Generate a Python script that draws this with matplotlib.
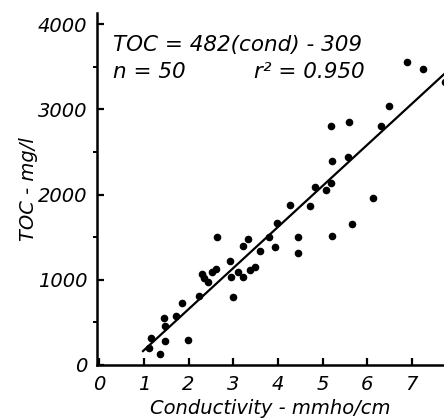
import numpy as np
from matplotlib import pyplot as plt

# conductivity (mmho/cm) and TOC (mg/l)
cond = [1.17, 1.11, 1.37, 1.46, 1.47, 1.47, 1.99, 1.72, 1.86, 2.24,
        2.64, 2.99, 2.30, 2.34, 2.52, 2.61, 2.92, 2.96, 3.10, 3.22,
        3.21, 3.32, 3.37, 3.49, 3.61, 3.81, 3.93, 3.97, 4.46, 4.46,
        5.21, 5.66, 4.27, 4.73, 4.83, 5.08, 5.19, 5.21, 5.57, 5.19,
        5.59, 6.49, 6.12, 6.89, 7.25, 7.74, 2.44, 6.32]
toc = [317, 202, 127, 551, 457, 287, 298, 572, 733, 815,
       1498, 794, 1065, 1021, 1091, 1130, 1223, 1028, 1087, 1038,
       1396, 1474, 1117, 1153, 1340, 1505, 1387, 1662, 1501, 1310,
       1517, 1652, 1878, 1862, 2088, 2055, 2131, 2395, 2445, 2804,
       2850, 3040, 1962, 3558, 3470, 3320, 970, 2804]

slope = 482
intercept = -309
fit_start = 0.98
fit_end = 7.9

x_ticks = [0, 1, 2, 3, 4, 5, 6, 7]
y_ticks = [0, 1000, 2000, 3000, 4000]
y_minor = [500, 1500, 2500, 3500]


def draw_plot():
    fig = plt.figure(figsize=(4.44, 4.18), dpi=100)
    ax = fig.add_axes([0.2185, 0.1268, 0.7815, 0.842])

    ax.scatter(cond, toc, s=20, color='black', zorder=3, clip_on=False)
    xs = np.array([fit_start, fit_end])
    ax.plot(xs, slope * xs + intercept, color='black', lw=1.6)

    ax.set_xlim(-0.05, 7.72)
    ax.set_ylim(0, 4130)

    for side in ['top', 'right']:
        ax.spines[side].set_visible(False)
    for side in ['left', 'bottom']:
        ax.spines[side].set_linewidth(1.8)

    ax.set_xticks(x_ticks)
    ax.set_yticks(y_ticks)
    ax.set_yticks(y_minor, minor=True)
    ax.tick_params(axis='both', which='major', direction='in', length=5,
                   width=1.6, labelsize=14, pad=7)
    ax.tick_params(axis='y', which='minor', direction='out', length=3, width=1.4)
    for lab in ax.get_xticklabels() + ax.get_yticklabels():
        lab.set_style('italic')

    ax.set_xlabel('Conductivity - mmho/cm', fontsize=14, style='italic', labelpad=4)
    ax.set_ylabel('TOC - mg/l', fontsize=14, style='italic', labelpad=0)

    ax.text(0.3, 3680, 'TOC = 482(cond) - 309', fontsize=15.5, style='italic')
    ax.text(0.3, 3370, 'n = 50', fontsize=15.5, style='italic')
    ax.text(5.95, 3370, 'r² = 0.950', fontsize=15.5, style='italic', ha='right')

    plt.savefig('out.png', dpi=100)


draw_plot()
